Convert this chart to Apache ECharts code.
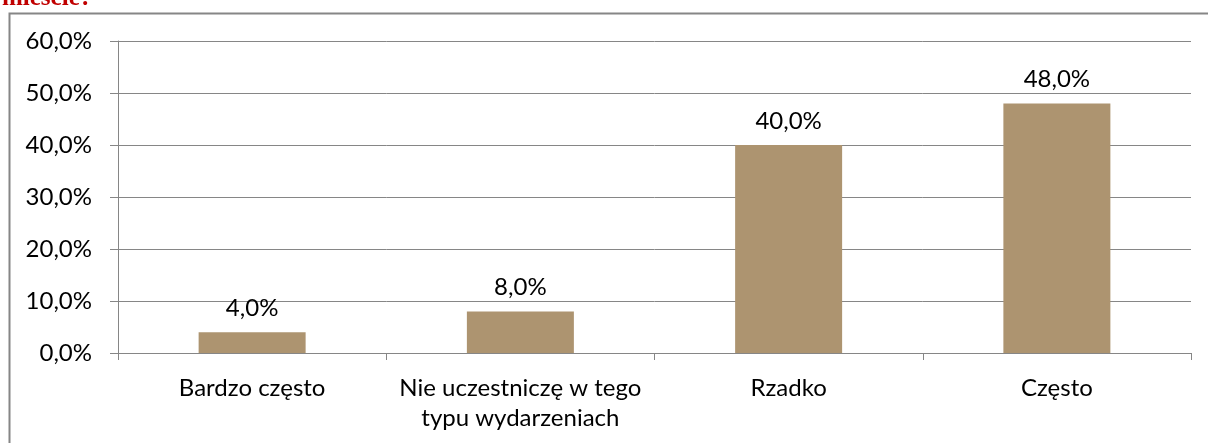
<!DOCTYPE html>
<html><head><meta charset="utf-8">
<script src="https://cdn.jsdelivr.net/npm/echarts@6/dist/echarts.min.js"></script>
<style>html,body{margin:0;padding:0;background:#fff}#c{width:1208px;height:443px}</style>
</head><body><div id="c"></div>
<script>
const categories = ['Bardzo często', 'Nie uczestniczę w tego\ntypu wydarzeniach', 'Rzadko', 'Często'];
const values = [4.0, 8.0, 40.0, 48.0];
const titleText = 'mieście?';
const fmt = v => v.toFixed(1).replace('.', ',') + '%';
const chart = echarts.init(document.getElementById('c'));
const FONT = 'Lato';
const FS = 24;
chart.setOption({
  animation: false,
  graphic: [
    { type: 'rect', shape: { x: 9.5, y: 13.5, width: 1300, height: 500 }, style: { fill: 'none', stroke: '#868686', lineWidth: 2 }, z: 0 },
    { type: 'text', x: 2, y: 11, style: { text: titleText, font: 'bold 25px "Liberation Serif"', fill: '#C00000', verticalAlign: 'bottom' } }
  ],
  grid: { left: 118, right: 17, top: 41, bottom: 90, containLabel: false },
  xAxis: {
    type: 'category', data: categories,
    axisLine: { lineStyle: { color: '#868686', width: 1 } },
    axisTick: { show: true, alignWithLabel: false, length: 7, lineStyle: { color: '#868686' } },
    axisLabel: { color: '#000', fontFamily: FONT, fontSize: FS, margin: 20, lineHeight: 30, interval: 0 }
  },
  yAxis: {
    type: 'value', min: 0, max: 60, interval: 10,
    axisLine: { show: true, lineStyle: { color: '#868686' } },
    axisTick: { show: true, inside: false, length: 8, lineStyle: { color: '#868686' } },
    splitLine: { lineStyle: { color: '#868686', width: 1 } },
    axisLabel: { color: '#000', fontFamily: FONT, fontSize: FS, margin: 26, formatter: v => fmt(v) }
  },
  series: [{
    type: 'bar', data: values, barWidth: 107,
    itemStyle: { color: '#AD9470' },
    label: { show: true, position: 'top', distance: 12, color: '#000', fontFamily: FONT, fontSize: FS, formatter: p => fmt(p.value) }
  }]
});
</script></body></html>
